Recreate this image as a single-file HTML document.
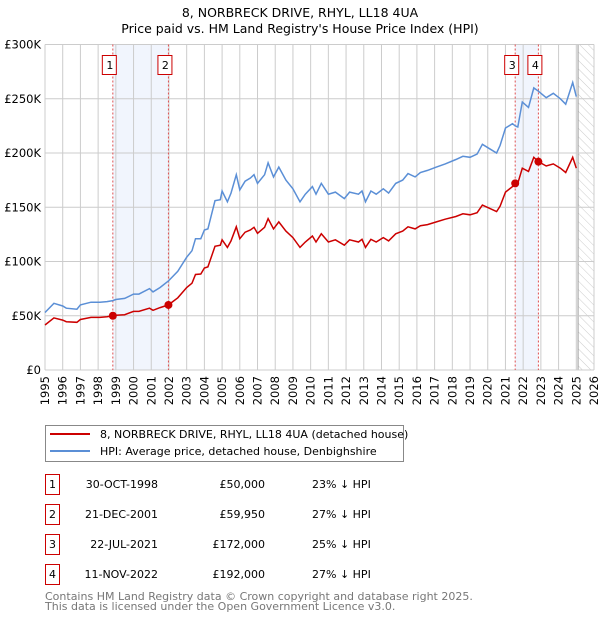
<!DOCTYPE html>
<html><head><meta charset="utf-8"><style>
body{margin:0;background:#fff;}
svg text{font-family:"DejaVu Sans","Liberation Sans",sans-serif;}
</style></head><body>
<svg id="chart" width="600" height="620" xmlns="http://www.w3.org/2000/svg">
<text x="300" y="17" text-anchor="middle" font-size="12.5">8, NORBRECK DRIVE, RHYL, LL18 4UA</text>
<text x="300" y="33" text-anchor="middle" font-size="12.5">Price paid vs. HM Land Registry's House Price Index (HPI)</text>
<defs><pattern id="hatch" width="6" height="6" patternUnits="userSpaceOnUse" patternTransform="rotate(-45)"><line x1="0" y1="0" x2="0" y2="6" stroke="#ccc" stroke-width="1"/></pattern></defs>
<g id="grid"></g><g id="marks"></g><g id="axes"></g>
<g>
<rect x="45.5" y="425.5" width="358" height="36" fill="#fff" stroke="#888"/>
<line x1="50" y1="434" x2="90" y2="434" stroke="#cc0000" stroke-width="2"/>
<text x="100" y="438" font-size="11">8, NORBRECK DRIVE, RHYL, LL18 4UA (detached house)</text>
<line x1="50" y1="451" x2="90" y2="451" stroke="#5b8fd6" stroke-width="2"/>
<text x="100" y="455" font-size="11">HPI: Average price, detached house, Denbighshire</text>
</g>
<g id="table"></g>
<text x="45" y="600" font-size="11" fill="#777">Contains HM Land Registry data © Crown copyright and database right 2025.</text>
<text x="45" y="610" font-size="11" fill="#777">This data is licensed under the Open Government Licence v3.0.</text>
</svg>
<script>
const years=[1995.0,1995.5,1996.0,1996.2,1996.8,1997.0,1997.6,1998.1,1998.5,1998.83,1999.0,1999.5,2000.0,2000.3,2000.9,2001.1,2001.5,2001.97,2002.5,2003.0,2003.3,2003.5,2003.8,2004.0,2004.2,2004.6,2004.9,2005.0,2005.3,2005.5,2005.8,2006.0,2006.3,2006.6,2006.8,2007.0,2007.4,2007.6,2007.9,2008.2,2008.6,2009.0,2009.4,2009.7,2010.1,2010.3,2010.6,2011.0,2011.4,2011.9,2012.2,2012.7,2012.9,2013.1,2013.4,2013.7,2014.1,2014.4,2014.8,2015.2,2015.5,2015.9,2016.2,2016.6,2017.1,2017.6,2018.2,2018.6,2019.0,2019.4,2019.7,2020.1,2020.5,2020.7,2021.0,2021.4,2021.55,2021.7,2021.95,2022.3,2022.6,2022.86,2023.3,2023.7,2024.1,2024.4,2024.8,2025.0];
const hpi=[53,61.5,59,57,56,60,62.5,62.5,63,64,65,66,70,70,75,72,76,82,91,104,110,121,121,129,130,156,157,165,155,163,180,166,174,177,180,172,180,191,178,187,175,167,155,162,169,162,172,162,164,158,164,162,165,155,165,162,167,163,172,175,181,178,182,184,187,190,194,197,196,199,208,204,200,207,223,227,225,224,247,242,260,257,251,255,250,245,265,252];
const price=[41.5,48,46,44.5,44,46.5,48.5,48.5,49,50,50.5,51,54,54,57,55,57.5,60,66.5,76,80,88,88.5,94,95,114,115,120,113,119,132,121,127,129,131.5,126,131.5,139.5,130,136.5,128,122,113,118,123.5,118,125.5,118,120,115,120,118,120.5,113,120.5,118,122,119,125.5,128,132,130,133,134,136.5,139,141.5,144,143,145,152,149,146,151,164,169,172,172,186,183,196,192,188,190,186,182,196,186];
const saleYears=[1998.83,2001.97,2021.55,2022.86];
const salePrices=[50,59.95,172,192];
const saleLabels=["1","2","3","4"];
const saleDates=["30-OCT-1998","21-DEC-2001","22-JUL-2021","11-NOV-2022"];
const saleAmounts=["£50,000","£59,950","£172,000","£192,000"];
const saleDiffs=["23% ↓ HPI","27% ↓ HPI","25% ↓ HPI","27% ↓ HPI"];
const yTicks=[0,50,100,150,200,250,300];
const yTickLabels=["£0","£50K","£100K","£150K","£200K","£250K","£300K"];
const xTicks=[1995,1996,1997,1998,1999,2000,2001,2002,2003,2004,2005,2006,2007,2008,2009,2010,2011,2012,2013,2014,2015,2016,2017,2018,2019,2020,2021,2022,2023,2024,2025,2026];

const X0=45,X1=594,Y0=370,Y1=44.5;
const xs=y=>X0+(y-1995)/(2026-1995)*(X1-X0);
const ys=v=>Y0-v/300*(Y0-Y1);
const NS="http://www.w3.org/2000/svg";
function mk(tag,attrs,parent){const e=document.createElementNS(NS,tag);for(const k in attrs)e.setAttribute(k,attrs[k]);parent.appendChild(e);return e;}
const grid=document.getElementById('grid'),marks=document.getElementById('marks'),axes=document.getElementById('axes'),table=document.getElementById('table');

for(let i=0;i<saleYears.length;i+=2){
  const r=mk('rect',{x:xs(saleYears[i]),y:Y1,width:xs(saleYears[i+1])-xs(saleYears[i]),height:Y0-Y1,fill:'#eef3fc',opacity:0.8},grid);
  
  
}
const hr=mk('rect',{x:xs(2025.1),y:Y1,width:X1-xs(2025.1),height:Y0-Y1,fill:'url(#hatch)'},grid);


mk('line',{x1:xs(2025.1),y1:Y1,x2:xs(2025.1),y2:Y0,stroke:'#999','stroke-width':1},grid);

xTicks.forEach(t=>{
  const l=mk('line',{x1:xs(t),y1:Y1,x2:xs(t),y2:Y0,stroke:'#ccc','stroke-width':1},grid);
  
  
  const tx=mk('text',{x:0,y:0,'font-size':11.5,'text-anchor':'end',transform:`translate(${xs(t)+4},${Y0+6}) rotate(-90)`},axes);
  tx.textContent=t;
  
  
});
yTicks.forEach((t,i)=>{
  const l=mk('line',{x1:X0,y1:ys(t),x2:X1,y2:ys(t),stroke:'#ccc','stroke-width':1},grid);
  
  
  const tx=mk('text',{x:X0-4,y:ys(t)+4,'font-size':11.5,'text-anchor':'end'},axes);
  tx.textContent=yTickLabels[i];
  
  
});

saleYears.forEach((s,i)=>{
  const l=mk('line',{x1:xs(s),y1:Y1,x2:xs(s),y2:Y0,stroke:'#e05050','stroke-width':1,'stroke-dasharray':'2,2'},marks);
  
  
});

function path(vals){return vals.map((v,i)=>(i?'L':'M')+xs(years[i]).toFixed(1)+','+ys(v).toFixed(1)).join('');}
const hp=mk('path',{d:path(hpi),fill:'none',stroke:'#5b8fd6','stroke-width':1.5},marks);


const pp=mk('path',{d:path(price),fill:'none',stroke:'#cc0000','stroke-width':1.5},marks);



saleYears.forEach((s,i)=>{
  const c=mk('circle',{cx:xs(s),cy:ys(salePrices[i]),r:4,fill:'#cc0000'},marks);
  
  
  const bx=xs(s)-10;
  const b=mk('rect',{x:bx-0.5,y:55.5,width:14,height:19,fill:'#fff',stroke:'#cc0000'},marks);
  
  
  const t=mk('text',{x:bx+7,y:69,'font-size':11,'text-anchor':'middle'},marks);
  t.textContent=saleLabels[i];
  
  
});

saleLabels.forEach((lab,i)=>{
  const cy=483+i*30;
  const b=mk('rect',{x:45.5,y:cy-8.5,width:14,height:20,fill:'#fff',stroke:'#cc0000'},table);
  
  
  const t=[[52.5,'middle',lab,'table-row-number'],[158,'end',saleDates[i],'table-date'],[265,'end',saleAmounts[i],'table-price'],[312,'start',saleDiffs[i],'table-hpi-diff']];
  t.forEach(([x,a,s,n])=>{
    const e=mk('text',{x:x,y:cy+5,'font-size':11,'text-anchor':a},table);
    e.textContent=s;
    
    
  });
});
</script>
</body></html>
